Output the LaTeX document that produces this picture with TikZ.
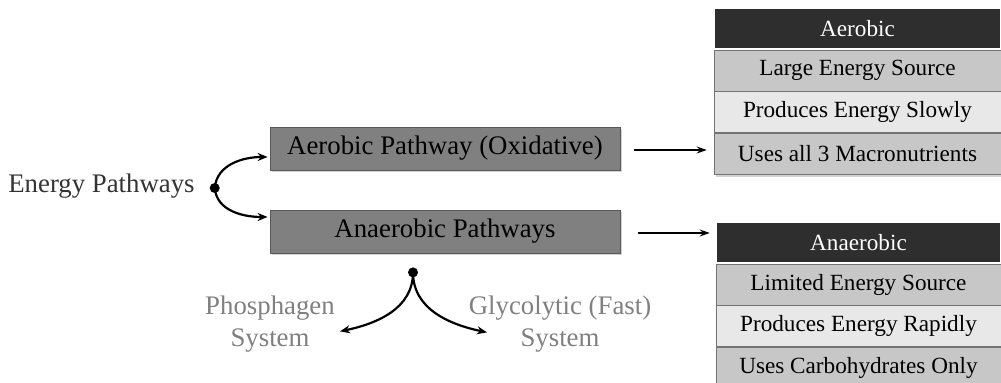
\documentclass[tikz,border=0pt]{standalone}
\usepackage{fontspec}
\setmainfont{Liberation Serif}
\usetikzlibrary{positioning,arrows.meta,shadows,calc}

\tikzset{
  pathbox/.style={draw=black!65, fill=black!50, minimum width=175pt, minimum height=21.5pt,
    font=\fontsize{13.4}{16}\selectfont,
    drop shadow={shadow xshift=1.2pt,shadow yshift=-1.2pt,opacity=.35}},
  tabhead/.style={draw=white, line width=.8pt, fill=black!82, text=white,
    minimum width=#1, minimum height=20.5pt, inner sep=0pt,
    font=\fontsize{11.6}{14}\selectfont},
  tabrow/.style={draw=black!55, line width=.3pt, minimum height=20.5pt, inner sep=0pt,
    font=\fontsize{11.6}{14}\selectfont},
  curve/.style={-{Stealth[length=5pt,width=4pt]}, line width=1.1pt},
  link/.style={-{Stealth[length=5pt,width=3.5pt]}, line width=.6pt},
  sysname/.style={text=black!50, align=center, font=\fontsize{13.4}{16}\selectfont},
}

\begin{document}
\begin{tikzpicture}[x=0.5pt,y=-0.5pt]
  \useasboundingbox (0,0) rectangle (1001,383);

  % pathways
  \node[text=black!80, font=\fontsize{13.4}{16}\selectfont] (energy) at (101.5,186) {Energy Pathways};
  \node[pathbox] (aer) at (445,148.5) {Aerobic Pathway (Oxidative)};
  \node[pathbox] (anaer) at (445,231.5) {Anaerobic Pathways};

  % aerobic table
  \node[tabhead=143.5pt] (aerhd) at (857.5,28.5) {Aerobic};
  \node[tabrow, fill=black!22, minimum width=143.5pt, below=0pt of aerhd] (aer1) {Large Energy Source};
  \node[tabrow, fill=black!9, minimum width=143.5pt, below=0pt of aer1] (aer2) {Produces Energy Slowly};
  \node[tabrow, fill=black!22, minimum width=143.5pt, below=0pt of aer2,
        drop shadow={shadow xshift=1.2pt,shadow yshift=-1.2pt,opacity=.35}] (aer3) {Uses all 3 Macronutrients};

  % anaerobic table
  \node[tabhead=142.5pt] (anhd) at (858.5,242.5) {Anaerobic};
  \node[tabrow, fill=black!22, minimum width=142.5pt, below=0pt of anhd] (an1) {Limited Energy Source};
  \node[tabrow, fill=black!9, minimum width=142.5pt, below=0pt of an1] (an2) {Produces Energy Rapidly};
  \node[tabrow, fill=black!22, minimum width=142.5pt, below=0pt of an2] (an3) {Uses Carbohydrates Only};

  % systems
  \node[sysname] (phos) at (270,324) {Phosphagen\\System};
  \node[sysname] (glyc) at (560,324) {Glycolytic (Fast)\\System};

  % split points
  \coordinate (split) at ($(energy.east)+(13,2)$);
  \coordinate (ansplit) at ($(anaer.south)+(-32,19)$);
  \fill (split) circle (2.5pt);
  \fill (ansplit) circle (2.5pt);

  \draw[curve] (split) to[out=85,in=180] ($(aer.west)+(-2,8.5)$);
  \draw[curve] (split) to[out=-85,in=180] ($(anaer.west)+(-2,-14.5)$);
  \draw[curve] (ansplit) to[out=-90,in=12] ($(ansplit)+(-73,59)$);
  \draw[curve] (ansplit) to[out=-90,in=168] ($(ansplit)+(74,60)$);

  % to the tables
  \coordinate (aerout) at ($(aer.east)+(14,1.5)$);
  \coordinate (anout) at ($(anaer.east)+(18,1.5)$);
  \draw[link, shorten >=3.5pt] (aerout) -- (aerout -| aer3.west);
  \draw[link, shorten >=3pt] (anout) -- (anout -| an3.west);
\end{tikzpicture}
\end{document}
